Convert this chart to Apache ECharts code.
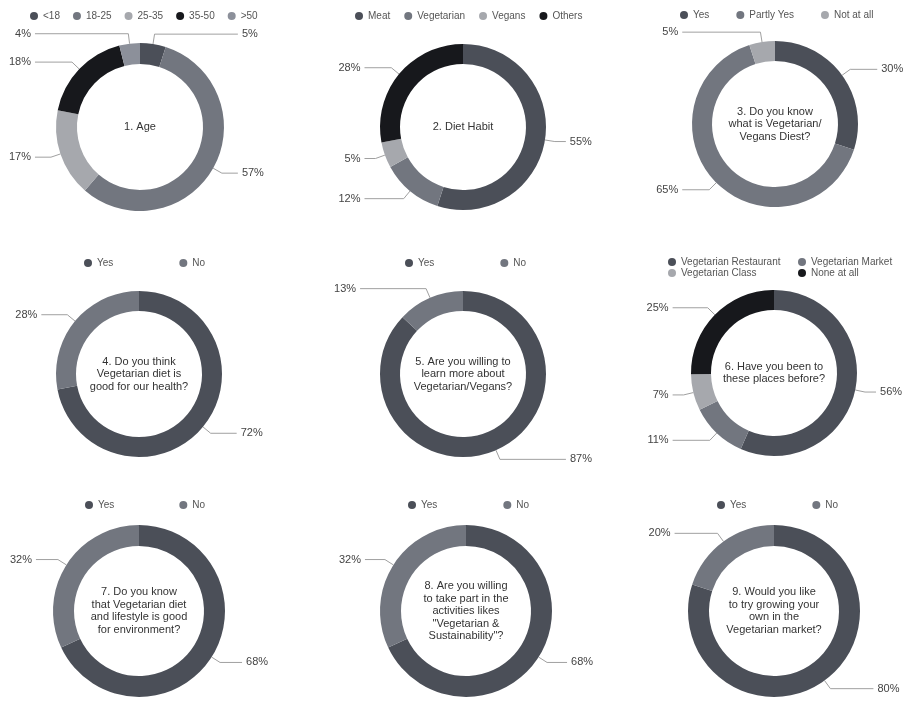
<!DOCTYPE html>
<html>
<head>
<meta charset="utf-8">
<script src="https://cdn.jsdelivr.net/npm/echarts@6/dist/echarts.min.js"></script>
<style>
html,body{margin:0;padding:0;background:#fff;}
#chart{width:905px;height:703px;}
</style>
</head>
<body>
<div id="chart"></div>
<script>
// ---- data ----
const ageLabels = ['<18', '18-25', '25-35', '35-50', '>50'];
const ageValues = [5, 57, 17, 18, 4];
const dietLabels = ['Meat', 'Vegetarian', 'Vegans', 'Others'];
const dietValues = [55, 12, 5, 28];
const knowLabels = ['Yes', 'Partly Yes', 'Not at all'];
const knowValues = [30, 65, 5];
const yesNoLabels = ['Yes', 'No'];
const healthValues = [72, 28];
const learnValues = [87, 13];
const placeLabels = ['Vegetarian Restaurant', 'Vegetarian Market', 'Vegetarian Class', 'None at all'];
const placeValues = [56, 11, 7, 25];
const envValues = [68, 32];
const activityValues = [68, 32];
const growValues = [80, 20];
const questions = [
  '1. Age',
  '2. Diet Habit',
  '3. Do you know\nwhat is Vegetarian/\nVegans Diest?',
  '4. Do you think\nVegetarian diet is\ngood for our health?',
  '5. Are you willing to\nlearn more about\nVegetarian/Vegans?',
  '6. Have you been to\nthese places before?',
  '7. Do you know\nthat Vegetarian diet\nand lifestyle is good\nfor environment?',
  '8. Are you willing\nto take part in the\nactivities likes\n"Vegetarian &\nSustainability"?',
  '9. Would you like\nto try growing your\nown in the\nVegetarian market?'
];

// ---- styling / layout ----
const DARK = '#4b4f58', MID = '#72767f', LIGHT = '#a6a8ad', BLACK = '#17181c', G50 = '#8c909a';
const FONT = '"Liberation Sans", Arial, Helvetica, sans-serif';

const panels = [
  { labels: ageLabels, values: ageValues, colors: [DARK, MID, LIGHT, BLACK, G50], center: [140, 127], r: 84, len: 10, len2: 16 },
  { labels: dietLabels, values: dietValues, colors: [DARK, MID, LIGHT, BLACK], center: [463, 127], r: 83, len: 10, len2: 11 },
  { labels: knowLabels, values: knowValues, colors: [DARK, MID, LIGHT], center: [775, 124], r: 83, len: 10, len2: 27 },
  { labels: yesNoLabels, values: healthValues, colors: [DARK, MID], center: [139, 374], r: 83, len: 10, len2: 26 },
  { labels: yesNoLabels, values: learnValues, colors: [DARK, MID], center: [463, 374], r: 83, len: 10, len2: 66 },
  { labels: placeLabels, values: placeValues, colors: [DARK, MID, LIGHT, BLACK], center: [774, 373], r: 83, len: 10, len2: 11 },
  { labels: yesNoLabels, values: envValues, colors: [DARK, MID], center: [139, 611], r: 86, len: 10, len2: 22 },
  { labels: yesNoLabels, values: activityValues, colors: [DARK, MID], center: [466, 611], r: 86, len: 10, len2: 20 },
  { labels: yesNoLabels, values: growValues, colors: [DARK, MID], center: [774, 611], r: 86, len: 10, len2: 43 }
];

const legendBase = {
  icon: 'circle', itemWidth: 8, itemHeight: 8, selectedMode: false,
  textStyle: { fontSize: 10, color: '#555', fontFamily: FONT }
};
const legends = [
  { data: ageLabels, left: 25, top: 6, itemGap: 13 },
  { data: dietLabels, left: 350, top: 6, itemGap: 14 },
  { data: knowLabels, left: 675, top: 5, itemGap: 27 },
  { data: yesNoLabels, left: 79, top: 253, itemGap: 66 },
  { data: yesNoLabels, left: 400, top: 253, itemGap: 66 },
  { data: [placeLabels[0], placeLabels[2]], left: 663, top: 252, orient: 'vertical', itemGap: 1 },
  { data: [placeLabels[1], placeLabels[3]], left: 793, top: 252, orient: 'vertical', itemGap: 1 },
  { data: yesNoLabels, left: 80, top: 495, itemGap: 65 },
  { data: yesNoLabels, left: 403, top: 495, itemGap: 66 },
  { data: yesNoLabels, left: 712, top: 495, itemGap: 66 }
].map(l => Object.assign({}, legendBase, l));

const series = panels.map(p => ({
  type: 'pie',
  center: p.center,
  radius: [Math.round(p.r * 0.755), p.r],
  startAngle: 90,
  clockwise: true,
  avoidLabelOverlap: true,
  emphasis: { disabled: true },
  itemStyle: { borderWidth: 0 },
  label: {
    show: true,
    position: 'outer',
    alignTo: 'labelLine',
    bleedMargin: 0,
    overflow: 'none',
    formatter: '{c}%',
    fontSize: 11,
    color: '#444',
    fontFamily: FONT,
    distanceToLabelLine: 4
  },
  labelLine: {
    show: true,
    length: p.len,
    length2: p.len2,
    smooth: false,
    lineStyle: { color: '#a0a0a0', width: 1 }
  },
  data: p.labels.map((name, i) => ({ name: name, value: p.values[i], itemStyle: { color: p.colors[i] } }))
}));

const graphics = panels.map((p, i) => ({
  type: 'text',
  x: p.center[0],
  y: p.center[1],
  silent: true,
  style: {
    text: questions[i],
    align: 'center',
    verticalAlign: 'middle',
    fontSize: 11,
    lineHeight: 12.5,
    fill: '#333',
    fontFamily: FONT
  }
}));

const chart = echarts.init(document.getElementById('chart'));
chart.setOption({
  backgroundColor: '#fff',
  animation: false,
  legend: legends,
  series: series,
  graphic: graphics
});
</script>
</body>
</html>
